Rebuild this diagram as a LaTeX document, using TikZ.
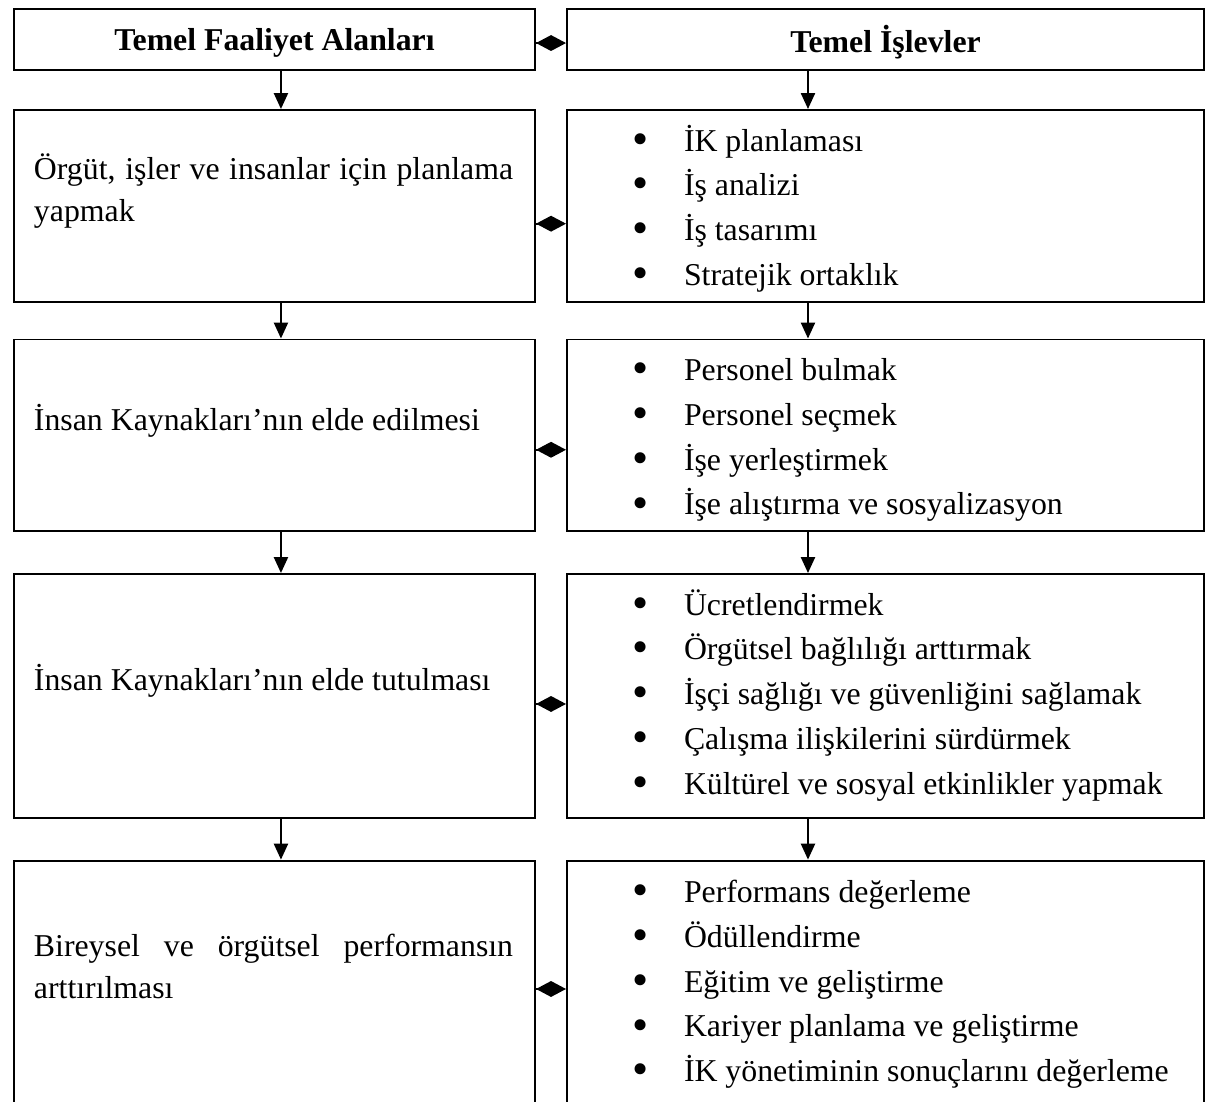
\documentclass[tikz,border=0pt]{standalone}
\usepackage{fontspec}
\setmainfont{Liberation Serif}
\usetikzlibrary{arrows.meta,positioning}

\newcommand{\bitem}{\leavevmode\llap{\raisebox{-0.1em}{\scalebox{1.45}{\textbullet}}\hspace{13.2pt}}}
\newcommand{\headtxt}[1]{\raisebox{-1.1pt}[\height][\depth]{#1}}

\begin{document}
\begin{tikzpicture}[x=0.3774pt, y=-0.3774pt, line width=0.75pt]
    \tikzset{
        box/.style={draw, rectangle, anchor=north west, inner sep=0pt},
        lbox/.style={box, minimum width=196.6pt},
        rbox/.style={box, minimum width=240.4pt},
        head/.style={font=\fontsize{12}{14}\selectfont\bfseries},
        ltext/.style={anchor=base west, inner sep=0pt, text width=180.8pt, align=justify, font=\fontsize{12}{15.9}\selectfont},
        blist/.style={anchor=base west, inner sep=0pt, text width=190pt, align=flush left, font=\fontsize{12}{16.9}\selectfont},
        down/.style={-{Triangle[width=5.3pt,length=6pt]}},
        link/.style={-{Diamond[width=6pt,length=11.3pt]}}
    }
    \useasboundingbox (0,0) rectangle (1208,1101);
    \clip (0,0) rectangle (1208,1101);

    % Header row
    \node[lbox, minimum height=22.8pt, head] (fa0) at (13,8.4) {\headtxt{Temel Faaliyet Alanları}};
    \node[rbox, minimum height=22.8pt, head] (is0) at (566,8.4) {\headtxt{Temel İşlevler}};

    % Row 1
    \node[lbox, minimum height=72.3pt] (fa1) at (13,109) {};
    \node[rbox, minimum height=72.3pt] (is1) at (566,109) {};
    \node[ltext] (fat1) at (33,179) {Örgüt, işler ve insanlar için planlama\linebreak yapmak};
    \node[blist] (ist1) at (683,151) {\bitem İK planlaması\\ \bitem İş analizi\\ \bitem İş tasarımı\\ \bitem Stratejik ortaklık};

    % Row 2
    \node[lbox, minimum height=72.3pt] (fa2) at (13,338.5) {};
    \node[rbox, minimum height=72.3pt] (is2) at (566,338.5) {};
    \node[ltext] (fat2) at (33,430.5) {İnsan Kaynakları’nın elde edilmesi};
    \node[blist] (ist2) at (683,380.5) {\bitem Personel bulmak\\ \bitem Personel seçmek\\ \bitem İşe yerleştirmek\\ \bitem İşe alıştırma ve sosyalizasyon};

    % Row 3
    \node[lbox, minimum height=92.1pt] (fa3) at (13,573) {};
    \node[rbox, minimum height=92.1pt] (is3) at (566,573) {};
    \node[ltext] (fat3) at (33,690.5) {İnsan Kaynakları’nın elde tutulması};
    \node[blist] (ist3) at (683,615) {\bitem Ücretlendirmek\\ \bitem Örgütsel bağlılığı arttırmak\\ \bitem İşçi sağlığı ve güvenliğini sağlamak\\ \bitem Çalışma ilişkilerini sürdürmek\\ \bitem Kültürel ve sosyal etkinlikler yapmak};

    % Row 4
    \node[lbox, minimum height=94.5pt] (fa4) at (13,859.6) {};
    \node[rbox, minimum height=94.5pt] (is4) at (566,859.6) {};
    \node[ltext] (fat4) at (33,956.5) {Bireysel ve örgütsel performansın\linebreak arttırılması};
    \node[blist] (ist4) at (683,902.5) {\bitem Performans değerleme\\ \bitem Ödüllendirme\\ \bitem Eğitim ve geliştirme\\ \bitem Kariyer planlama ve geliştirme\\ \bitem İK yönetiminin sonuçlarını değerleme};

    % Downward arrows
    \draw[down] ([xshift=2.45pt]fa0.south) -- ([xshift=2.45pt]fa1.north);
    \draw[down] ([xshift=2.45pt]fa1.south) -- ([xshift=2.45pt]fa2.north);
    \draw[down] ([xshift=2.45pt]fa2.south) -- ([xshift=2.45pt]fa3.north);
    \draw[down] ([xshift=2.45pt]fa3.south) -- ([xshift=2.45pt]fa4.north);
    \draw[down] ([xshift=-29.25pt]is0.south) -- ([xshift=-29.25pt]is1.north);
    \draw[down] ([xshift=-29.25pt]is1.south) -- ([xshift=-29.25pt]is2.north);
    \draw[down] ([xshift=-29.25pt]is2.south) -- ([xshift=-29.25pt]is3.north);
    \draw[down] ([xshift=-29.25pt]is3.south) -- ([xshift=-29.25pt]is4.north);

    % Diamond links between the columns
    \draw[link] ([yshift=-1.3pt]fa0.east) -- ([yshift=-1.3pt]is0.west);
    \draw[link] ([yshift=-6.76pt]fa1.east) -- ([yshift=-6.76pt]is1.west);
    \draw[link] ([yshift=-5.47pt]fa2.east) -- ([yshift=-5.47pt]is2.west);
    \draw[link] ([yshift=-3pt]fa3.east) -- ([yshift=-3pt]is3.west);
    \draw[link] ([yshift=-1.2pt]fa4.east) -- ([yshift=-1.2pt]is4.west);
\end{tikzpicture}
\end{document}
